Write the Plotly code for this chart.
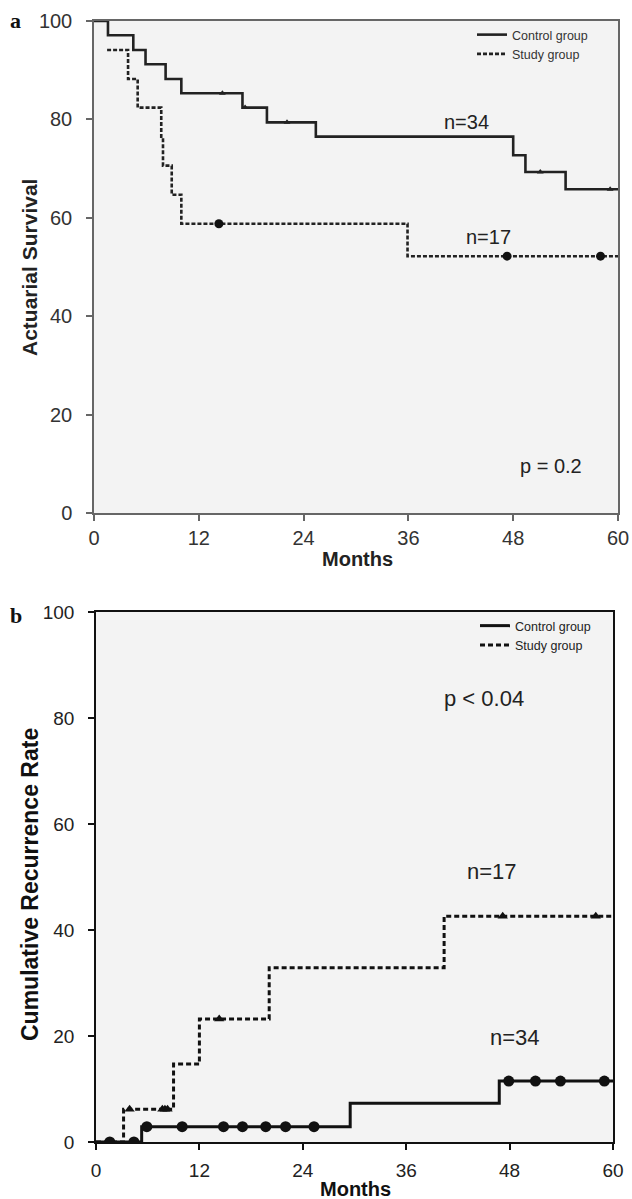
import numpy as np
import plotly.graph_objects as go

# ---------------- data ----------------
months_ticks = [0, 12, 24, 36, 48, 60]
pct_ticks = [0, 20, 40, 60, 80, 100]

# Panel a: actuarial survival
a_ctrl_time = [0, 1.6, 4.5, 5.9, 8.2, 10.0, 17.0, 19.8, 25.4, 48.0, 49.4, 54.0, 60]
a_ctrl_surv = [100, 97.1, 94.1, 91.2, 88.2, 85.3, 82.4, 79.4, 76.5, 72.7, 69.3, 65.8, 65.8]
a_ctrl_cens = [14.7, 17.3, 22.1, 51.1, 59.1]
a_study_time = [1.5, 3.9, 5.0, 7.7, 7.9, 8.9, 10.0, 35.9, 60]
a_study_surv = [94.1, 88.2, 82.4, 76.5, 70.6, 64.7, 58.8, 52.2, 52.2]
a_study_cens = [14.3, 47.3, 58.0]

# Panel b: cumulative recurrence rate
b_ctrl_time = [0, 5.3, 29.5, 46.8, 60]
b_ctrl_rate = [0, 2.9, 7.3, 11.5, 11.5]
b_ctrl_cens = [1.6, 4.4, 5.9, 10.0, 14.8, 17.0, 19.7, 22.0, 25.3, 47.9, 51.0, 53.9, 59.0]
b_study_time = [0, 3.2, 9.0, 12.0, 20.1, 40.4, 60]
b_study_rate = [0, 6.2, 14.7, 23.2, 32.9, 42.6, 42.6]
b_study_cens = [3.9, 7.7, 8.0, 8.3, 14.3, 47.2, 58.0]

# text labels (month, value, text)
a_labels = [(42.6, 79.5, "n=34"), (45.2, 56.2, "n=17"), (52.3, 9.5, "p = 0.2")]
b_labels = [(45.0, 83.6, "p < 0.04"), (46.0, 51.0, "n=17"), (48.6, 19.8, "n=34")]


def step_at(times, vals, ts):
    times = np.asarray(times)
    vals = np.asarray(vals)
    idx = np.searchsorted(times, ts, side="right") - 1
    idx = np.clip(idx, 0, len(vals) - 1)
    return vals[idx].tolist()


W, H = 632, 1199
FONT = "Liberation Sans, Arial, Helvetica, sans-serif"
BG = "#f3f3f3"


def px_x(p):
    return p / W


def px_y(p):
    return 1 - p / H


fig = go.Figure()

# ---- panel a ----
fig.add_trace(go.Scatter(x=a_study_time, y=a_study_surv, mode="lines", line_shape="hv",
                         line=dict(color="#222", width=2.6, dash="4px,2px"),
                         name="Study group", legend="legend", legendrank=2,
                         xaxis="x", yaxis="y"))
fig.add_trace(go.Scatter(x=a_ctrl_time, y=a_ctrl_surv, mode="lines", line_shape="hv",
                         line=dict(color="#222", width=2.6),
                         name="Control group", legend="legend", legendrank=1,
                         xaxis="x", yaxis="y"))
fig.add_trace(go.Scatter(x=a_ctrl_cens, y=step_at(a_ctrl_time, a_ctrl_surv, a_ctrl_cens),
                         mode="markers", marker=dict(symbol="triangle-up", size=6, color="#222"),
                         showlegend=False, xaxis="x", yaxis="y"))
fig.add_trace(go.Scatter(x=a_study_cens, y=step_at(a_study_time, a_study_surv, a_study_cens),
                         mode="markers", marker=dict(symbol="circle", size=9, color="#111"),
                         showlegend=False, xaxis="x", yaxis="y"))

# ---- panel b ----
fig.add_trace(go.Scatter(x=b_study_time, y=b_study_rate, mode="lines", line_shape="hv",
                         line=dict(color="#111", width=3, dash="5px,3px"),
                         name="Study group", legend="legend2", legendrank=2,
                         xaxis="x2", yaxis="y2"))
fig.add_trace(go.Scatter(x=b_ctrl_time, y=b_ctrl_rate, mode="lines", line_shape="hv",
                         line=dict(color="#111", width=3),
                         name="Control group", legend="legend2", legendrank=1,
                         xaxis="x2", yaxis="y2"))
fig.add_trace(go.Scatter(x=b_ctrl_cens, y=step_at(b_ctrl_time, b_ctrl_rate, b_ctrl_cens),
                         mode="markers", marker=dict(symbol="circle", size=11, color="#111"),
                         showlegend=False, xaxis="x2", yaxis="y2"))
fig.add_trace(go.Scatter(x=b_study_cens, y=step_at(b_study_time, b_study_rate, b_study_cens),
                         mode="markers", marker=dict(symbol="triangle-up", size=9, color="#111"),
                         showlegend=False, xaxis="x2", yaxis="y2"))

axis_common = dict(showline=True, mirror=True, showgrid=False, zeroline=False,
                   ticks="outside", ticklen=6)

fig.update_layout(
    width=W, height=H,
    margin=dict(l=0, r=0, t=0, b=0, autoexpand=False),
    paper_bgcolor="white",
    plot_bgcolor=BG,
    font=dict(family=FONT, color="#222"),
    xaxis=dict(domain=[px_x(94), px_x(618)], anchor="y", range=[0, 60],
               tickvals=months_ticks, linecolor="#666", linewidth=1.5, tickcolor="#666",
               tickwidth=1.5, tickfont=dict(size=20, color="#333"), ticklabelstandoff=0,
               **axis_common),
    yaxis=dict(domain=[px_y(513), px_y(21)], anchor="x", range=[0, 100],
               tickvals=pct_ticks, linecolor="#666", linewidth=1.5, tickcolor="#666",
               tickwidth=1.5, tickfont=dict(size=20, color="#333"), ticklabelstandoff=10,
               **axis_common),
    xaxis2=dict(domain=[px_x(96), px_x(613)], anchor="y2", range=[0, 60],
                tickvals=months_ticks, linecolor="#111", linewidth=1.5, tickcolor="#111",
                tickwidth=1.5, tickfont=dict(size=19, color="#222"), ticklabelstandoff=4,
                **axis_common),
    yaxis2=dict(domain=[px_y(1142), px_y(612)], anchor="x2", range=[0, 100],
                tickvals=pct_ticks, linecolor="#111", linewidth=1.5, tickcolor="#111",
                tickwidth=1.5, tickfont=dict(size=19, color="#222"), ticklabelstandoff=10,
                **axis_common),
    legend=dict(x=px_x(472), y=px_y(20), xanchor="left", yanchor="top",
                bgcolor="rgba(0,0,0,0)", font=dict(size=12.5, color="#333"),
                itemwidth=30, tracegroupgap=0),
    legend2=dict(x=px_x(475), y=px_y(611), xanchor="left", yanchor="top",
                 bgcolor="rgba(0,0,0,0)", font=dict(size=12.5, color="#222"),
                 itemwidth=30, tracegroupgap=0),
)

annotations = []
for (mx, val, txt) in a_labels:
    annotations.append(dict(x=mx, y=val, xref="x", yref="y", text=txt, showarrow=False,
                            xanchor="center", yanchor="middle",
                            font=dict(size=20, color="#222")))
for (mx, val, txt) in b_labels:
    annotations.append(dict(x=mx, y=val, xref="x2", yref="y2", text=txt, showarrow=False,
                            xanchor="center", yanchor="middle",
                            font=dict(size=22, color="#222")))

serif = "Liberation Serif, Times New Roman, serif"
# panel letters and axis titles
annotations += [
    dict(x=px_x(8), y=px_y(20), text="<b>a</b>", xanchor="left",
         font=dict(size=22, family=serif, color="#111")),
    dict(x=px_x(8), y=px_y(615), text="<b>b</b>", xanchor="left",
         font=dict(size=22, family=serif, color="#111")),
    dict(x=px_x(29), y=px_y(268), text="<b>Actuarial Survival</b>", textangle=-90,
         xanchor="center", font=dict(size=21, color="#222")),
    dict(x=px_x(357), y=px_y(559), text="<b>Months</b>", xanchor="center",
         font=dict(size=20, color="#222")),
    dict(x=px_x(30), y=px_y(885), text="<b>Cumulative Recurrence Rate</b>", textangle=-90,
         xanchor="center", font=dict(size=23, color="#111")),
    dict(x=px_x(355), y=px_y(1189), text="<b>Months</b>", xanchor="center",
         font=dict(size=20, color="#111")),
]
for ann in annotations[-6:]:
    ann.update(xref="paper", yref="paper", showarrow=False, yanchor="middle")
fig.update_layout(annotations=annotations)

fig.write_html("out.html", config={"displayModeBar": False},
               post_script="document.body.style.margin='0';document.body.style.overflow='hidden';")
